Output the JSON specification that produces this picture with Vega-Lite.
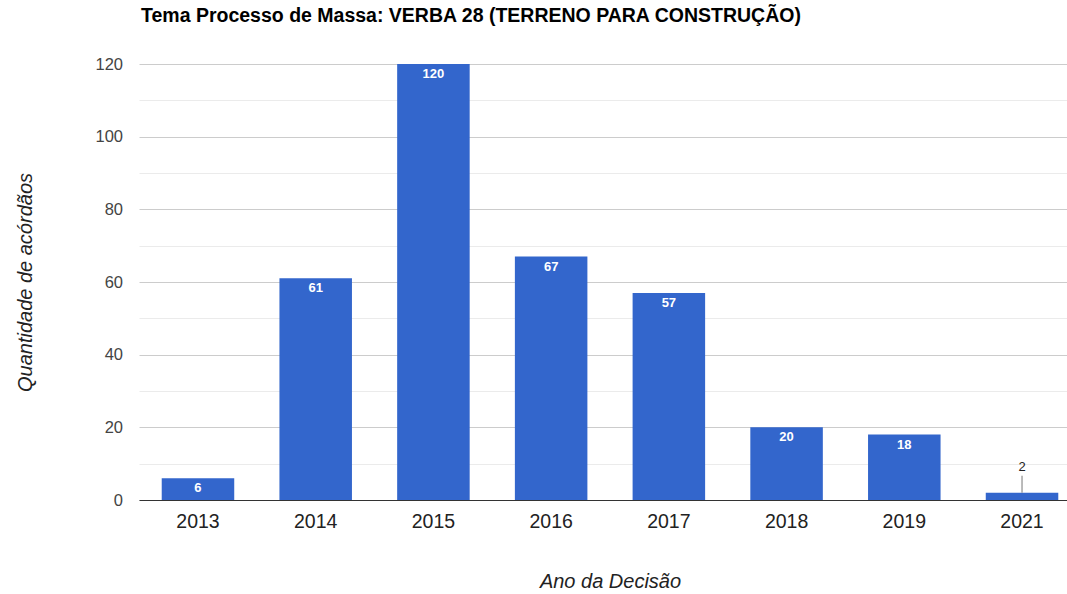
{
  "$schema": "https://vega.github.io/schema/vega-lite/v6.json",
  "width": 942,
  "height": 436,
  "autosize": "none",
  "padding": {"left": 139, "top": 64, "right": 0, "bottom": 94},
  "background": "white",
  "title": {
    "text": "Tema Processo de Massa: VERBA 28 (TERRENO PARA CONSTRUÇÃO)",
    "anchor": "start",
    "frame": "group",
    "font": "Liberation Sans",
    "fontSize": 19.5,
    "fontWeight": "bold",
    "color": "#000",
    "offset": 30,
    "dx": 2
  },
  "config": {
    "view": {"stroke": null},
    "font": "Liberation Sans"
  },
  "data": {
    "values": [
      {"ano": "2013", "qtd": 6},
      {"ano": "2014", "qtd": 61},
      {"ano": "2015", "qtd": 120},
      {"ano": "2016", "qtd": 67},
      {"ano": "2017", "qtd": 57},
      {"ano": "2018", "qtd": 20},
      {"ano": "2019", "qtd": 18},
      {"ano": "2021", "qtd": 2}
    ]
  },
  "encoding": {
    "x": {
      "field": "ano",
      "type": "ordinal",
      "scale": {"paddingInner": 0.384, "paddingOuter": 0.193},
      "axis": {
        "title": "Ano da Decisão",
        "titleFont": "Liberation Sans",
        "titleFontSize": 20,
        "titleFontStyle": "italic",
        "titleFontWeight": "normal",
        "titleColor": "#222",
        "titlePadding": 41,
        "titleX": 471,
        "labelAngle": 0,
        "labelFont": "Liberation Sans",
        "labelFontSize": 19.5,
        "labelColor": "#222",
        "labelPadding": 12,
        "ticks": false,
        "domain": true,
        "domainColor": "#333",
        "domainWidth": 1,
        "grid": false
      }
    },
    "y": {
      "field": "qtd",
      "type": "quantitative",
      "scale": {"domain": [0, 120], "nice": false},
      "axis": {
        "title": "Quantidade de acórdãos",
        "titleFont": "Liberation Sans",
        "titleFontSize": 20,
        "titleFontStyle": "italic",
        "titleFontWeight": "normal",
        "titleColor": "#222",
        "titlePadding": 59,
        "values": [0, 10, 20, 30, 40, 50, 60, 70, 80, 90, 100, 110, 120],
        "labelExpr": "datum.value % 20 === 0 ? datum.label : ''",
        "labelFont": "Liberation Sans",
        "labelFontSize": 16.5,
        "labelColor": "#444",
        "labelPadding": 16.5,
        "ticks": false,
        "domain": false,
        "grid": true,
        "gridColor": {"condition": {"test": "datum.value % 20 === 0", "value": "#cccccc"}, "value": "#ebebeb"},
        "gridWidth": 1
      }
    }
  },
  "layer": [
    {
      "mark": {"type": "bar", "color": "#3366cc"}
    },
    {
      "transform": [{"filter": "datum.qtd >= 5"}],
      "mark": {
        "type": "text",
        "baseline": "top",
        "dy": 4,
        "color": "white",
        "font": "Liberation Sans",
        "fontSize": 13,
        "fontWeight": "bold"
      },
      "encoding": {"text": {"field": "qtd", "type": "quantitative"}}
    },
    {
      "transform": [{"filter": "datum.qtd < 5"}],
      "mark": {"type": "rule", "color": "#777", "strokeWidth": 1, "y2Offset": -17},
      "encoding": {"y2": {"field": "qtd"}}
    },
    {
      "transform": [{"filter": "datum.qtd < 5"}],
      "mark": {
        "type": "text",
        "baseline": "bottom",
        "dy": -19,
        "color": "#222",
        "font": "Liberation Sans",
        "fontSize": 13
      },
      "encoding": {"text": {"field": "qtd", "type": "quantitative"}}
    }
  ]
}
